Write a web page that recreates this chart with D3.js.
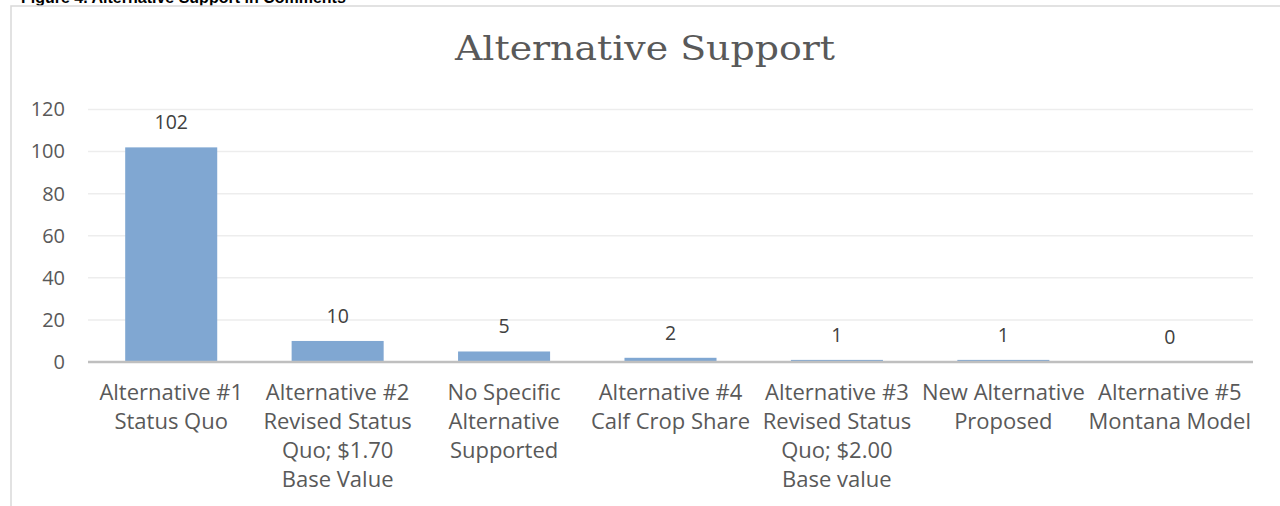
<!DOCTYPE html>
<html>
<head>
<meta charset="utf-8">
<script src="https://cdn.jsdelivr.net/npm/d3@7"></script>
<style>
  body { margin: 0; background: #fff; }
  svg { display: block; }
</style>
</head>
<body>
<div id="chart"></div>
<script>
const width = 1280;
const height = 506;

// data
const categories = ["alt1", "alt2", "none", "alt4", "alt3", "new", "alt5"];
const labelLines = [
    ["Alternative #1", "Status Quo"],
    ["Alternative #2", "Revised Status", "Quo; $1.70", "Base Value"],
    ["No Specific", "Alternative", "Supported"],
    ["Alternative #4", "Calf Crop Share"],
    ["Alternative #3", "Revised Status", "Quo; $2.00", "Base value"],
    ["New Alternative", "Proposed"],
    ["Alternative #5", "Montana Model"]
];
const values = [102, 10, 5, 2, 1, 1, 0];
const yTicks = [0, 20, 40, 60, 80, 100, 120];

const plot = {left: 88, right: 1253, top: 109.5, bottom: 362};

const svg = d3.select("#chart").append("svg")
    .attr("width", width)
    .attr("height", height)
    .attr("viewBox", [0, 0, width, height]);

// caption of the document, cut by the top edge like in the source
svg.append("text")
    .attr("x", 21)
    .attr("y", 3)
    .style("font-family", "'Liberation Sans', Arial, sans-serif")
    .style("font-weight", "bold")
    .style("font-size", "16px")
    .style("fill", "#000")
    .text("Figure 4. Alternative Support in Comments");

// chart frame
svg.append("rect")
    .attr("x", 11)
    .attr("y", 6)
    .attr("width", 1290)
    .attr("height", 520)
    .attr("fill", "#fff")
    .attr("stroke", "#d9d9d9")
    .attr("stroke-width", 1.5);

svg.append("text")
    .attr("x", 645)
    .attr("y", 60)
    .attr("text-anchor", "middle")
    .attr("textLength", 380)
    .attr("lengthAdjust", "spacingAndGlyphs")
    .style("font-family", "'DejaVu Serif', serif")
    .style("font-size", "33px")
    .style("fill", "#595959")
    .text("Alternative Support");

const x = d3.scaleBand()
    .domain(categories)
    .range([plot.left, plot.right])
    .paddingInner(0.447)
    .paddingOuter(0.2235);

const y = d3.scaleLinear()
    .domain([0, 120])
    .range([plot.bottom, plot.top]);

// gridlines
svg.append("g")
    .selectAll("line")
    .data(yTicks.filter(d => d > 0))
    .join("line")
    .attr("x1", plot.left)
    .attr("x2", plot.right)
    .attr("y1", d => y(d))
    .attr("y2", d => y(d))
    .attr("stroke", "#ededed")
    .attr("stroke-width", 1.5);

// y axis labels
const yAxis = svg.append("g")
    .attr("transform", `translate(${plot.left - 23},0)`)
    .call(d3.axisLeft(y).tickValues(yTicks).tickSize(0).tickPadding(0));
yAxis.select(".domain").remove();
yAxis.selectAll("text")
    .style("font-family", "'Open Sans', sans-serif")
    .style("font-size", "20px")
    .style("fill", "#595959");

// bars
svg.append("g")
    .selectAll("rect")
    .data(values)
    .join("rect")
    .attr("x", (d, i) => x(categories[i]))
    .attr("y", d => y(d))
    .attr("width", x.bandwidth())
    .attr("height", d => y(0) - y(d))
    .attr("fill", "#80a7d2");

// category axis line
svg.append("line")
    .attr("x1", plot.left)
    .attr("x2", plot.right)
    .attr("y1", y(0))
    .attr("y2", y(0))
    .attr("stroke", "#bfbfbf")
    .attr("stroke-width", 2.5);

// value labels
svg.append("g")
    .selectAll("text")
    .data(values)
    .join("text")
    .attr("x", (d, i) => x(categories[i]) + x.bandwidth() / 2)
    .attr("y", d => y(d) - 18)
    .attr("text-anchor", "middle")
    .style("font-family", "'Open Sans', sans-serif")
    .style("font-size", "19.5px")
    .style("fill", "#404040")
    .text(d => d);

// category labels, wrapped as in the picture
const catLabels = svg.append("g")
    .selectAll("text")
    .data(labelLines)
    .join("text")
    .attr("text-anchor", "middle")
    .style("font-family", "'Open Sans', sans-serif")
    .style("font-size", "22px")
    .style("fill", "#595959");

catLabels.selectAll("tspan")
    .data((d, i) => d.map(line => ({line, i})))
    .join("tspan")
    .attr("x", d => x(categories[d.i]) + x.bandwidth() / 2)
    .attr("y", (d, j) => 400 + j * 29)
    .text(d => d.line);
</script>
</body>
</html>
